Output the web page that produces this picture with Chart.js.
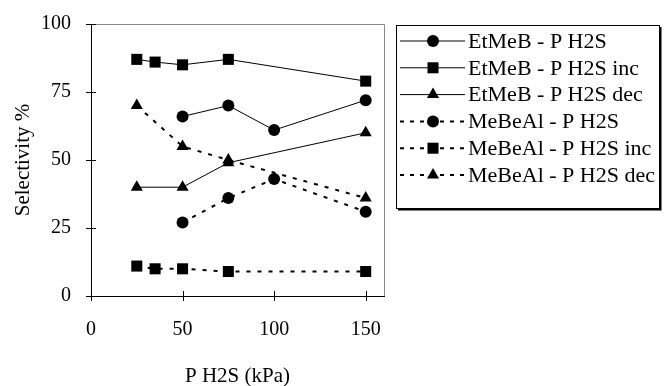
<!DOCTYPE html>
<html>
<head>
<meta charset="utf-8">
<script src="https://cdn.jsdelivr.net/npm/chart.js@4/dist/chart.umd.min.js"></script>
<style>
  html, body { margin: 0; padding: 0; background: #fff; }
  #wrap { width: 665px; height: 386px; }
</style>
</head>
<body>
<div id="wrap"><canvas id="selChart" width="665" height="386"></canvas></div>
<script>
// Selectivity vs P H2S
const pressureX   = [50, 75, 100, 150];
const pressureInc = [25, 35, 50, 75, 150];
const pressureDec = [25, 50, 75, 150];

const etmebY      = [66, 70, 61, 72];
const etmebIncY   = [87, 86, 85, 87, 79];
const etmebDecY   = [40, 40, 49, 60];
const mebealY     = [27, 36, 43, 31];
const mebealIncY  = [11, 10, 10, 9, 9];
const mebealDecY  = [70, 55, 50, 36];

const seriesNames = [
    'EtMeB - P H2S', 'EtMeB - P H2S inc', 'EtMeB - P H2S dec',
    'MeBeAl - P H2S', 'MeBeAl - P H2S inc', 'MeBeAl - P H2S dec'
];
const xTicks = [0, 50, 100, 150];
const yTicks = [0, 25, 50, 75, 100];

const serif = "'Liberation Serif', 'Times New Roman', serif";

function pts(xs, ys) {
    return xs.map((x, i) => ({ x: x, y: ys[i] }));
}

function makeSet(label, data, style, dotted) {
    return {
        label: label,
        data: data,
        showLine: true,
        borderColor: '#000',
        backgroundColor: '#000',
        borderWidth: dotted ? 2 : 1,
        borderDash: dotted ? [4, 7] : [],
        pointStyle: style,
        pointRadius: style === 'rect' ? 7.8 : (style === 'triangle' ? 7 : 6),
        pointBorderWidth: 0,
        pointBackgroundColor: '#000',
        tension: 0
    };
}

const datasets = [
    makeSet(seriesNames[0], pts(pressureX, etmebY), 'circle', false),
    makeSet(seriesNames[1], pts(pressureInc, etmebIncY), 'rect', false),
    makeSet(seriesNames[2], pts(pressureDec, etmebDecY), 'triangle', false),
    makeSet(seriesNames[3], pts(pressureX, mebealY), 'circle', true),
    makeSet(seriesNames[4], pts(pressureInc, mebealIncY), 'rect', true),
    makeSet(seriesNames[5], pts(pressureDec, mebealDecY), 'triangle', true)
];

// frame + crossing tick marks
const frameTicks = {
    id: 'frameTicks',
    afterDraw(chart) {
        const ctx = chart.ctx;
        const a = chart.chartArea;
        ctx.save();
        ctx.strokeStyle = '#888';
        ctx.lineWidth = 1;
        ctx.beginPath();
        ctx.moveTo(a.left, a.top + 0.5);
        ctx.lineTo(a.right + 0.5, a.top + 0.5);
        ctx.lineTo(a.right + 0.5, a.bottom);
        ctx.stroke();

        ctx.strokeStyle = '#000';
        ctx.beginPath();
        yTicks.forEach(v => {
            const y = Math.round(chart.scales.y.getPixelForValue(v)) + 0.5;
            ctx.moveTo(a.left - 5, y);
            ctx.lineTo(a.left + 5, y);
        });
        xTicks.forEach(v => {
            const x = Math.round(chart.scales.x.getPixelForValue(v)) + 0.5;
            ctx.moveTo(x, a.bottom - 5);
            ctx.lineTo(x, a.bottom + 5);
        });
        ctx.stroke();
        ctx.restore();
    }
};

// boxed legend with line samples
const legendBox = {
    id: 'legendBox',
    afterDraw(chart) {
        const ctx = chart.ctx;
        const bx = 396, by = 25, bw = 263, bh = 183;
        ctx.save();
        ctx.fillStyle = '#fff';
        ctx.fillRect(bx, by, bw, bh);
        ctx.strokeStyle = '#000';
        ctx.lineWidth = 1;
        ctx.strokeRect(bx + 0.5, by + 0.5, bw, bh);
        ctx.lineWidth = 2;
        ctx.beginPath();
        ctx.moveTo(bx + bw + 1.5, by + 2);
        ctx.lineTo(bx + bw + 1.5, by + bh + 1.5);
        ctx.lineTo(bx + 2, by + bh + 1.5);
        ctx.stroke();

        ctx.font = '22px ' + serif;
        ctx.textBaseline = 'middle';
        chart.data.datasets.forEach((ds, i) => {
            const y = 41 + i * 26.8;
            ctx.strokeStyle = '#000';
            ctx.lineWidth = ds.borderWidth;
            ctx.setLineDash(ds.borderDash.length ? [4, 6] : []);
            ctx.beginPath();
            ctx.moveTo(400, y);
            ctx.lineTo(465, y);
            ctx.stroke();
            ctx.setLineDash([]);
            ctx.fillStyle = '#000';
            Chart.helpers.drawPoint(ctx, {
                pointStyle: ds.pointStyle,
                radius: ds.pointRadius,
                rotation: 0,
                borderWidth: 0
            }, 433, y);
            ctx.fillStyle = '#000';
            ctx.fillText(ds.label, 468, y + 1);
        });
        ctx.restore();
    }
};

const chart = new Chart(document.getElementById('selChart').getContext('2d'), {
    type: 'scatter',
    data: { datasets: datasets },
    options: {
        responsive: false,
        animation: false,
        devicePixelRatio: 1,
        layout: { padding: { left: 0, top: 22, right: 281, bottom: 0 } },
        plugins: {
            legend: { display: false },
            tooltip: { enabled: false }
        },
        scales: {
            x: {
                type: 'linear',
                min: 0,
                max: 160,
                afterBuildTicks: s => { s.ticks = xTicks.map(v => ({ value: v })); },
                afterFit: s => { s.height = 90; },
                grid: { display: false },
                border: { display: true, color: '#000', width: 1 },
                ticks: {
                    color: '#000',
                    font: { family: serif, size: 20 },
                    padding: 14,
                    maxRotation: 0
                },
                title: {
                    display: true,
                    text: 'P H2S (kPa)',
                    color: '#000',
                    font: { family: serif, size: 21 },
                    padding: { top: 0, bottom: -3 }
                }
            },
            y: {
                type: 'linear',
                min: 0,
                max: 100,
                afterBuildTicks: s => { s.ticks = yTicks.map(v => ({ value: v })); },
                afterFit: s => { s.width = 91; },
                grid: { display: false },
                border: { display: true, color: '#000', width: 1 },
                ticks: {
                    color: '#000',
                    font: { family: serif, size: 20 },
                    padding: 12
                },
                title: {
                    display: true,
                    text: 'Selectivity %',
                    color: '#000',
                    font: { family: serif, size: 21 },
                    padding: { top: 11, bottom: 0 }
                }
            }
        }
    },
    plugins: [frameTicks, legendBox]
});
</script>
</body>
</html>
